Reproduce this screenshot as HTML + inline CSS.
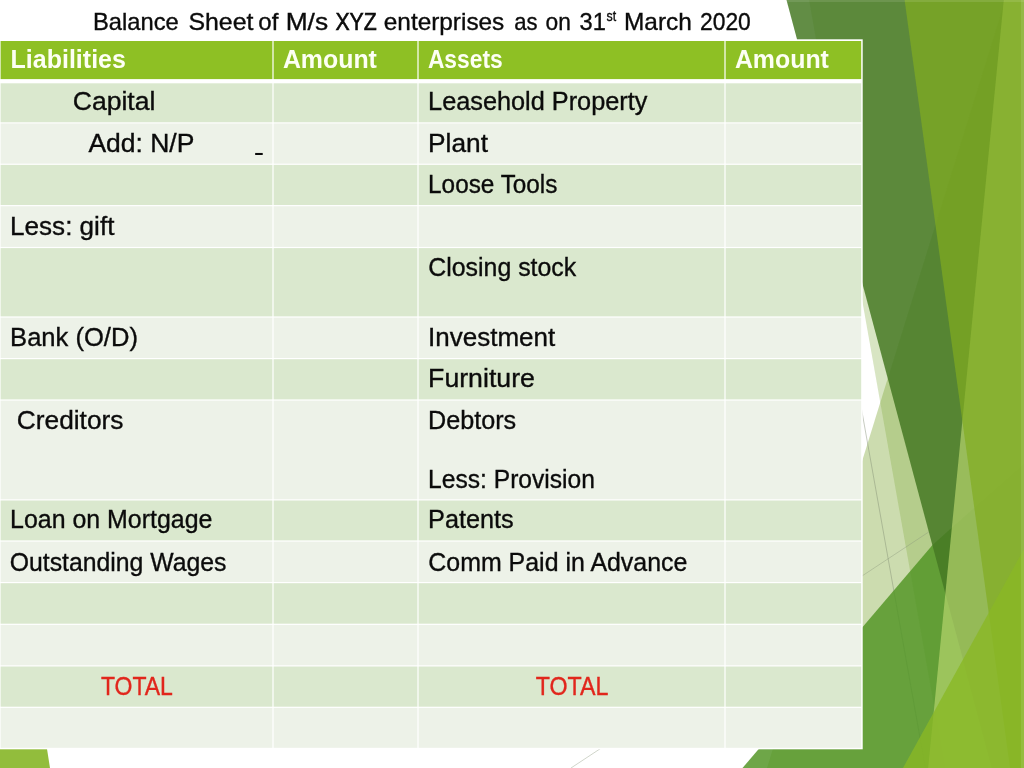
<!DOCTYPE html>
<html lang="en"><head><meta charset="utf-8">
<title>Balance Sheet of M/s XYZ enterprises as on 31st March 2020</title>
<style>
html,body{margin:0;padding:0;background:#fff;}
body{width:1024px;height:768px;overflow:hidden;position:relative;}
svg{position:absolute;left:0;top:0;display:block;}
#facets,#table,#labels{filter:blur(0.45px);}
text{font-family:"Liberation Sans",sans-serif;font-size:25.4px;fill:#0b0b0b;stroke:#0b0b0b;stroke-width:0.35px;}
.t{font-size:24px;}
.h{font-weight:bold;fill:#FDFFF4;stroke:none;}
.r{fill:#E1261C;stroke:#E1261C;}
</style></head><body>
<svg width="1024" height="768" viewBox="0 0 1024 768">
<g id="facets">
<polygon points="1005,0 1024,0 1024,768 767,768" fill="rgb(130,170,60)" fill-opacity="0.41"/>
<polygon points="809,0 1024,0 1024,768 945,768" fill="rgb(130,170,60)" fill-opacity="0.31"/>
<line x1="860" y1="400.6" x2="925.4" y2="768" stroke="#7f8a70" stroke-width="0.8" stroke-opacity="0.55"/>
<line x1="929" y1="531.8" x2="571" y2="768" stroke="#8a967a" stroke-width="0.8" stroke-opacity="0.5"/>
<polygon points="742.5,768 932.5,545 953.5,526 1024,464 1024,768" fill="rgb(85,150,40)" fill-opacity="0.85"/>
<polygon points="786.5,0 1024,0 1024,768 992,768" fill="rgb(70,121,37)" fill-opacity="0.85"/>
<polygon points="1003.8,0 1024,0 1024,768 928.2,768" fill="rgb(182,212,110)" fill-opacity="0.70"/>
<polygon points="904.6,0 1024,0 1024,768 1010,768" fill="rgb(130,173,33)" fill-opacity="0.70"/>
<polygon points="1024,549 903,768 1024,768" fill="rgb(137,184,37)" fill-opacity="0.80"/>
<polygon points="0,449 50,768 0,768" fill="rgb(146,189,60)"/>
<rect x="1021" y="0" width="3" height="768" fill="#fff" fill-opacity="0.10"/>
<rect x="786" y="0" width="238" height="2" fill="#fff" fill-opacity="0.10"/>
</g>
<g id="table">
<rect x="0" y="39.3" width="862.7" height="710.0" fill="#ffffff"/>
<rect x="0.60" y="41.00" width="271.80" height="38.10" fill="#8EC024"/>
<rect x="273.60" y="41.00" width="143.80" height="38.10" fill="#8EC024"/>
<rect x="418.60" y="41.00" width="305.80" height="38.10" fill="#8EC024"/>
<rect x="725.60" y="41.00" width="135.60" height="38.10" fill="#8EC024"/>
<rect x="0.60" y="83.30" width="271.80" height="39.00" fill="#DAE8CE"/>
<rect x="273.60" y="83.30" width="143.80" height="39.00" fill="#DAE8CE"/>
<rect x="418.60" y="83.30" width="305.80" height="39.00" fill="#DAE8CE"/>
<rect x="725.60" y="83.30" width="135.60" height="39.00" fill="#DAE8CE"/>
<rect x="0.60" y="123.50" width="271.80" height="40.15" fill="#EDF2E8"/>
<rect x="273.60" y="123.50" width="143.80" height="40.15" fill="#EDF2E8"/>
<rect x="418.60" y="123.50" width="305.80" height="40.15" fill="#EDF2E8"/>
<rect x="725.60" y="123.50" width="135.60" height="40.15" fill="#EDF2E8"/>
<rect x="0.60" y="164.85" width="271.80" height="40.20" fill="#DAE8CE"/>
<rect x="273.60" y="164.85" width="143.80" height="40.20" fill="#DAE8CE"/>
<rect x="418.60" y="164.85" width="305.80" height="40.20" fill="#DAE8CE"/>
<rect x="725.60" y="164.85" width="135.60" height="40.20" fill="#DAE8CE"/>
<rect x="0.60" y="206.25" width="271.80" height="40.65" fill="#EDF2E8"/>
<rect x="273.60" y="206.25" width="143.80" height="40.65" fill="#EDF2E8"/>
<rect x="418.60" y="206.25" width="305.80" height="40.65" fill="#EDF2E8"/>
<rect x="725.60" y="206.25" width="135.60" height="40.65" fill="#EDF2E8"/>
<rect x="0.60" y="248.10" width="271.80" height="68.30" fill="#DAE8CE"/>
<rect x="273.60" y="248.10" width="143.80" height="68.30" fill="#DAE8CE"/>
<rect x="418.60" y="248.10" width="305.80" height="68.30" fill="#DAE8CE"/>
<rect x="725.60" y="248.10" width="135.60" height="68.30" fill="#DAE8CE"/>
<rect x="0.60" y="317.60" width="271.80" height="40.40" fill="#EDF2E8"/>
<rect x="273.60" y="317.60" width="143.80" height="40.40" fill="#EDF2E8"/>
<rect x="418.60" y="317.60" width="305.80" height="40.40" fill="#EDF2E8"/>
<rect x="725.60" y="317.60" width="135.60" height="40.40" fill="#EDF2E8"/>
<rect x="0.60" y="359.20" width="271.80" height="40.20" fill="#DAE8CE"/>
<rect x="273.60" y="359.20" width="143.80" height="40.20" fill="#DAE8CE"/>
<rect x="418.60" y="359.20" width="305.80" height="40.20" fill="#DAE8CE"/>
<rect x="725.60" y="359.20" width="135.60" height="40.20" fill="#DAE8CE"/>
<rect x="0.60" y="400.60" width="271.80" height="98.70" fill="#EDF2E8"/>
<rect x="273.60" y="400.60" width="143.80" height="98.70" fill="#EDF2E8"/>
<rect x="418.60" y="400.60" width="305.80" height="98.70" fill="#EDF2E8"/>
<rect x="725.60" y="400.60" width="135.60" height="98.70" fill="#EDF2E8"/>
<rect x="0.60" y="500.50" width="271.80" height="39.90" fill="#DAE8CE"/>
<rect x="273.60" y="500.50" width="143.80" height="39.90" fill="#DAE8CE"/>
<rect x="418.60" y="500.50" width="305.80" height="39.90" fill="#DAE8CE"/>
<rect x="725.60" y="500.50" width="135.60" height="39.90" fill="#DAE8CE"/>
<rect x="0.60" y="541.60" width="271.80" height="40.40" fill="#EDF2E8"/>
<rect x="273.60" y="541.60" width="143.80" height="40.40" fill="#EDF2E8"/>
<rect x="418.60" y="541.60" width="305.80" height="40.40" fill="#EDF2E8"/>
<rect x="725.60" y="541.60" width="135.60" height="40.40" fill="#EDF2E8"/>
<rect x="0.60" y="583.20" width="271.80" height="40.50" fill="#DAE8CE"/>
<rect x="273.60" y="583.20" width="143.80" height="40.50" fill="#DAE8CE"/>
<rect x="418.60" y="583.20" width="305.80" height="40.50" fill="#DAE8CE"/>
<rect x="725.60" y="583.20" width="135.60" height="40.50" fill="#DAE8CE"/>
<rect x="0.60" y="624.90" width="271.80" height="40.40" fill="#EDF2E8"/>
<rect x="273.60" y="624.90" width="143.80" height="40.40" fill="#EDF2E8"/>
<rect x="418.60" y="624.90" width="305.80" height="40.40" fill="#EDF2E8"/>
<rect x="725.60" y="624.90" width="135.60" height="40.40" fill="#EDF2E8"/>
<rect x="0.60" y="666.50" width="271.80" height="40.20" fill="#DAE8CE"/>
<rect x="273.60" y="666.50" width="143.80" height="40.20" fill="#DAE8CE"/>
<rect x="418.60" y="666.50" width="305.80" height="40.20" fill="#DAE8CE"/>
<rect x="725.60" y="666.50" width="135.60" height="40.20" fill="#DAE8CE"/>
<rect x="0.60" y="707.90" width="271.80" height="39.90" fill="#EDF2E8"/>
<rect x="273.60" y="707.90" width="143.80" height="39.90" fill="#EDF2E8"/>
<rect x="418.60" y="707.90" width="305.80" height="39.90" fill="#EDF2E8"/>
<rect x="725.60" y="707.90" width="135.60" height="39.90" fill="#EDF2E8"/>
</g>
<g id="labels">
<text class="t" x="93" y="29.6"><tspan x="93.0" y="29.6" textLength="85.7" lengthAdjust="spacingAndGlyphs">Balance</tspan> <tspan x="188.4" y="29.6" textLength="65.0" lengthAdjust="spacingAndGlyphs">Sheet</tspan> <tspan x="258.3" y="29.6" textLength="20.0" lengthAdjust="spacingAndGlyphs">of</tspan> <tspan x="285.7" y="29.6" textLength="42.4" lengthAdjust="spacingAndGlyphs">M/s</tspan> <tspan x="335.4" y="29.6" textLength="41.4" lengthAdjust="spacingAndGlyphs" stroke-width="0.6">XYZ</tspan> <tspan x="383.8" y="29.6" textLength="120.5" lengthAdjust="spacingAndGlyphs">enterprises</tspan> <tspan x="514.2" y="29.6" textLength="23.3" lengthAdjust="spacingAndGlyphs">as</tspan> <tspan x="545.5" y="29.6" textLength="25.3" lengthAdjust="spacingAndGlyphs">on</tspan> <tspan x="579.5" y="29.6" textLength="26.3" lengthAdjust="spacingAndGlyphs">31</tspan> <tspan x="606.6" y="21.4" font-size="14.5" textLength="9.6" lengthAdjust="spacingAndGlyphs">st</tspan> <tspan x="624.0" y="29.6" textLength="67.8" lengthAdjust="spacingAndGlyphs">March</tspan> <tspan x="700.0" y="29.6" textLength="50.8" lengthAdjust="spacingAndGlyphs">2020</tspan></text>
<text x="10.6" y="68.3" textLength="115.3" lengthAdjust="spacingAndGlyphs" class="h">Liabilities</text>
<text x="282.9" y="68.3" textLength="94.0" lengthAdjust="spacingAndGlyphs" class="h">Amount</text>
<text x="427.9" y="68.3" textLength="74.8" lengthAdjust="spacingAndGlyphs" class="h">Assets</text>
<text x="734.9" y="68.3" textLength="94.0" lengthAdjust="spacingAndGlyphs" class="h">Amount</text>
<text x="72.8" y="109.5" textLength="82.6" lengthAdjust="spacingAndGlyphs">Capital</text>
<text x="88.4" y="151.6" textLength="106.0" lengthAdjust="spacingAndGlyphs">Add: N/P</text>
<text x="253.7" y="160.7" font-size="20" textLength="10.4" lengthAdjust="spacingAndGlyphs" style="stroke:none">-</text>
<text x="10.1" y="235.3" textLength="104.3" lengthAdjust="spacingAndGlyphs">Less: gift</text>
<text x="10.1" y="345.9" textLength="127.8" lengthAdjust="spacingAndGlyphs">Bank (O/D)</text>
<text x="16.8" y="428.7" textLength="106.6" lengthAdjust="spacingAndGlyphs">Creditors</text>
<text x="10.1" y="527.8" textLength="202.3" lengthAdjust="spacingAndGlyphs">Loan on Mortgage</text>
<text x="9.8" y="570.6" textLength="216.6" lengthAdjust="spacingAndGlyphs">Outstanding Wages</text>
<text x="100.9" y="694.7" textLength="72.0" lengthAdjust="spacingAndGlyphs" class="r">TOTAL</text>
<text x="428.1" y="109.5" textLength="219.3" lengthAdjust="spacingAndGlyphs">Leasehold Property</text>
<text x="428.1" y="151.6" textLength="59.9" lengthAdjust="spacingAndGlyphs">Plant</text>
<text x="428.1" y="193.1" textLength="129.3" lengthAdjust="spacingAndGlyphs">Loose Tools</text>
<text x="428.3" y="276.0" textLength="147.9" lengthAdjust="spacingAndGlyphs">Closing stock</text>
<text x="428.1" y="345.9" textLength="127.1" lengthAdjust="spacingAndGlyphs">Investment</text>
<text x="428.1" y="387.2" textLength="106.8" lengthAdjust="spacingAndGlyphs">Furniture</text>
<text x="428.1" y="428.7" textLength="88.1" lengthAdjust="spacingAndGlyphs">Debtors</text>
<text x="428.1" y="488.1" textLength="166.8" lengthAdjust="spacingAndGlyphs">Less: Provision</text>
<text x="428.1" y="527.8" textLength="85.6" lengthAdjust="spacingAndGlyphs">Patents</text>
<text x="428.3" y="570.6" textLength="259.1" lengthAdjust="spacingAndGlyphs">Comm Paid in Advance</text>
<text x="535.7" y="694.7" textLength="72.7" lengthAdjust="spacingAndGlyphs" class="r">TOTAL</text>
</g>
</svg>
</body></html>
